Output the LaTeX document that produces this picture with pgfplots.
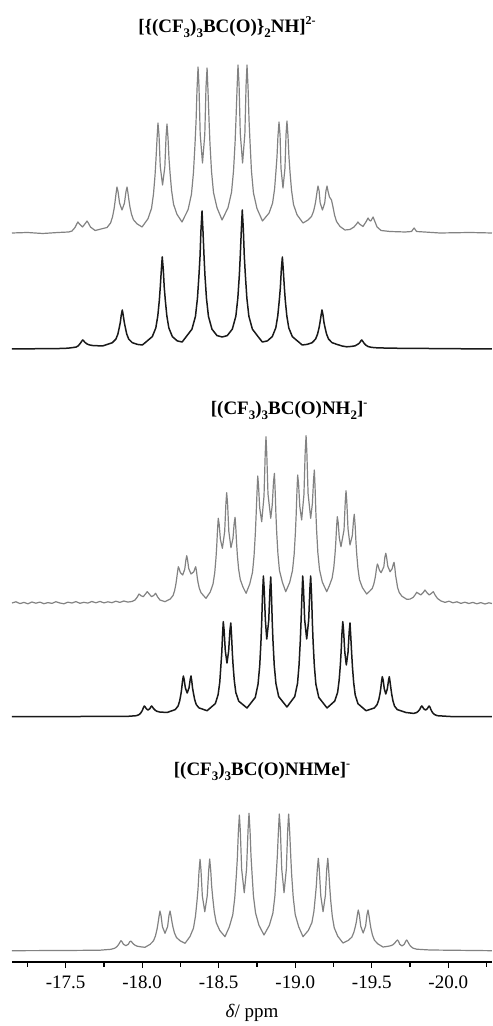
\documentclass[border=0pt]{standalone}
\usepackage{fontspec}
\setmainfont{Liberation Serif}
\usepackage{pgfplots}
\pgfplotsset{compat=1.18}
\definecolor{grayline}{RGB}{130,130,130}
\definecolor{blackline}{RGB}{25,25,25}
\newcommand{\lsub}[1]{\raisebox{-0.55ex}{\fontsize{13}{13}\selectfont #1}}
\newcommand{\lsup}[1]{\raisebox{1.0ex}{\fontsize{12}{12}\selectfont #1}}
\begin{document}
\begin{tikzpicture}
\begin{axis}[
  scale only axis, width=480pt, height=962pt,
  at={(0,0)}, anchor=south west,
  x dir=reverse, xmin=-20.286, xmax=-17.149, ymin=0, ymax=962,
  axis x line*=bottom, axis y line=none, ytick=\empty,
  x axis line style={-, line width=1.4pt, black},
  xtick={-17.5,-18,-18.5,-19,-19.5,-20},
  xticklabels={-17.5,-18.0,-18.5,-19.0,-19.5,-20.0},
  minor xtick={-17.25,-17.75,-18.25,-18.75,-19.25,-19.75,-20.25},
  tick align=outside, major tick length=6pt, minor tick length=4.5pt,
  tick style={black, line width=1.2pt},
  ticklabel style={font=\fontsize{19}{22}\selectfont},
  xticklabel style={yshift=-4pt},
  every axis plot/.append style={line join=round},
  clip=false,
]
\path (axis cs:-17.0706,-64) rectangle (axis cs:-20.286,962);

% trace 1: gray top
\addplot[grayline, line width=1.2pt] coordinates {
(-17.149,729) (-17.250,729.5) (-17.350,728.5) (-17.450,729.5) (-17.520,730)
(-17.541,731) (-17.561,734.5) (-17.574,738.5) (-17.580,740) (-17.587,738.5) (-17.610,735) (-17.633,739.5) (-17.639,741) (-17.646,739.5) (-17.662,735) (-17.692,731.5)
(-17.770,734.5) (-17.793,738.9) (-17.806,745.1) (-17.816,753) (-17.822,759.6) (-17.829,768.4) (-17.835,775) (-17.842,770.4) (-17.852,758.9) (-17.868,752) (-17.884,758.9) (-17.894,770.4) (-17.901,775) (-17.907,769) (-17.914,761) (-17.920,755) (-17.930,747.8) (-17.943,742.2) (-17.966,738.2) (-17.999,735)
(-18.038,743.3) (-18.061,753.7) (-18.074,768.3) (-18.084,787) (-18.090,802.6) (-18.097,823.4) (-18.103,839) (-18.110,826.6) (-18.118,795.6) (-18.133,777) (-18.148,795.3) (-18.156,825.8) (-18.162,838) (-18.169,823.3) (-18.175,803.7) (-18.182,789) (-18.192,771.4) (-18.205,757.6) (-18.227,747.8) (-18.260,740)
(-18.300,752.4) (-18.322,767.9) (-18.335,789.6) (-18.345,817.5) (-18.352,840.8) (-18.358,871.8) (-18.365,895) (-18.371,875.8) (-18.379,827.8) (-18.394,799) (-18.409,827.5) (-18.417,875) (-18.424,894) (-18.430,871.2) (-18.437,840.8) (-18.443,818) (-18.453,790.6) (-18.466,769.4) (-18.489,754.2) (-18.522,742)
(-18.561,754.4) (-18.584,769.9) (-18.597,791.6) (-18.607,819.5) (-18.613,842.8) (-18.620,873.8) (-18.626,897) (-18.633,877.4) (-18.641,828.4) (-18.656,799) (-18.671,828.4) (-18.679,877.4) (-18.685,897) (-18.692,873.6) (-18.698,842.4) (-18.705,819) (-18.714,790.9) (-18.727,769.1) (-18.750,753.5) (-18.786,741)
(-18.829,748.9) (-18.852,758.8) (-18.865,772.7) (-18.874,790.5) (-18.881,805.4) (-18.887,825.2) (-18.894,840) (-18.901,826.8) (-18.907,793.8) (-18.920,774) (-18.933,793.8) (-18.940,827.6) (-18.946,841) (-18.953,825.7) (-18.959,805.3) (-18.966,790) (-18.976,771.6) (-18.989,757.4) (-19.012,747.2) (-19.051,739)
(-19.084,742) (-19.107,745.7) (-19.120,750.8) (-19.130,757.5) (-19.136,763) (-19.143,770.5) (-19.149,776) (-19.156,771.2) (-19.163,759.2) (-19.178,752) (-19.193,759.2) (-19.201,771.2) (-19.208,776) (-19.214,771) (-19.224,765) (-19.237,762) (-19.247,755) (-19.257,747) (-19.270,740.5) (-19.293,735.5) (-19.325,732)
(-19.358,732.5) (-19.384,735) (-19.401,738) (-19.410,740) (-19.420,738) (-19.443,735.5) (-19.466,741) (-19.476,744) (-19.486,741.5) (-19.494,741) (-19.509,745) (-19.518,741.5) (-19.535,735) (-19.561,731.5) (-19.620,730.5) (-19.718,730) (-19.760,730.5) (-19.777,734) (-19.793,730.5) (-19.946,729) (-20.142,729.5) (-20.286,729)
};

% trace 2: black top
\addplot[blackline, line width=1.5pt] coordinates {
(-17.149,613) (-17.332,613.3) (-17.463,613.5)
(-17.513,613.8) (-17.546,614.4) (-17.569,615) (-17.582,616.2) (-17.592,618) (-17.598,619.2) (-17.605,620.8) (-17.611,622) (-17.618,621.1) (-17.624,619.9) (-17.631,619) (-17.641,617.9) (-17.654,617.1) (-17.676,616.5) (-17.741,616)
(-17.772,617.6) (-17.805,619.3) (-17.828,622.9) (-17.841,627.9) (-17.850,634.3) (-17.857,639.6) (-17.863,646.7) (-17.870,652) (-17.876,646.7) (-17.883,639.6) (-17.890,634.3) (-17.899,627.9) (-17.912,622.9) (-17.935,619.3) (-17.968,617.6) (-18.001,617)
(-18.033,621.1) (-18.066,625.4) (-18.089,634.1) (-18.102,646.2) (-18.112,661.8) (-18.118,674.7) (-18.125,692) (-18.131,705) (-18.138,692) (-18.144,674.7) (-18.151,661.8) (-18.161,646.2) (-18.174,634.1) (-18.197,625.4) (-18.229,621.1) (-18.261,620)
(-18.293,626.4) (-18.325,632.8) (-18.348,645.6) (-18.361,663.6) (-18.371,686.8) (-18.378,706) (-18.384,731.7) (-18.391,751) (-18.397,731.7) (-18.404,706) (-18.410,686.8) (-18.420,663.6) (-18.433,645.6) (-18.456,632.8) (-18.489,626.4) (-18.523,625)
(-18.556,626.4) (-18.589,632.9) (-18.612,645.8) (-18.625,663.9) (-18.635,687.3) (-18.641,706.7) (-18.648,732.6) (-18.654,752) (-18.661,732.6) (-18.667,706.7) (-18.674,687.3) (-18.684,663.9) (-18.697,645.8) (-18.720,632.9) (-18.752,626.4) (-18.785,620)
(-18.818,621.1) (-18.850,625.4) (-18.873,634.1) (-18.886,646.2) (-18.896,661.8) (-18.903,674.7) (-18.909,692) (-18.916,705) (-18.922,692) (-18.929,674.7) (-18.935,661.8) (-18.945,646.2) (-18.958,634.1) (-18.981,625.4) (-19.014,621.1) (-19.046,617)
(-19.077,617.6) (-19.110,619.3) (-19.133,622.9) (-19.146,627.9) (-19.156,634.3) (-19.162,639.6) (-19.169,646.7) (-19.175,652) (-19.182,646.7) (-19.188,639.6) (-19.195,634.3) (-19.205,627.9) (-19.218,622.9) (-19.241,619.3) (-19.273,617.6) (-19.306,616)
(-19.337,615.2) (-19.369,615.6) (-19.392,616.2) (-19.405,617.4) (-19.415,618.3) (-19.422,619.4) (-19.428,620.9) (-19.435,622) (-19.441,620.8) (-19.448,619.2) (-19.454,618) (-19.464,616.6) (-19.477,615.4) (-19.500,614.6) (-19.533,614.2) (-19.620,613.8) (-20.286,613)
};

% trace 3: gray middle
\addplot[grayline, line width=1.2pt] coordinates {
(-17.149,359) (-17.175,360.2) (-17.201,358.4) (-17.227,359.6) (-17.253,358.2) (-17.279,360) (-17.305,358.8) (-17.332,359.9) (-17.358,358.3) (-17.384,359.4) (-17.410,358.6) (-17.436,360.3) (-17.462,359) (-17.488,358.2) (-17.514,359.8) (-17.541,359) (-17.567,360.4) (-17.593,358.7) (-17.619,359.7) (-17.645,358.9) (-17.671,360.5) (-17.697,359.2) (-17.724,360.6) (-17.750,359.1) (-17.776,360.2) (-17.802,359.3) (-17.828,360.8) (-17.854,359.6) (-17.880,361) (-17.906,359.9)
(-17.933,360.5) (-17.953,362) (-17.966,364.5) (-17.979,368) (-17.992,366.3) (-18.007,365.3) (-18.020,367.8) (-18.033,370.3) (-18.047,367.8) (-18.061,365.3) (-18.075,366.5) (-18.088,368.7) (-18.101,365) (-18.116,362) (-18.149,360.3)
(-18.184,363.1) (-18.202,366.6) (-18.212,371.5) (-18.220,377.8) (-18.225,383.1) (-18.231,390.1) (-18.236,395.3) (-18.241,393.6) (-18.249,389.5) (-18.265,387) (-18.278,392.8) (-18.286,402.4) (-18.291,406.3) (-18.296,402.6) (-18.304,393.5) (-18.319,388) (-18.337,390.2) (-18.345,393.7) (-18.350,395.3) (-18.355,390.6) (-18.360,384.2) (-18.365,379.5) (-18.373,373.8) (-18.384,369.4) (-18.402,366.2) (-18.417,363.7)
(-18.445,370.1) (-18.463,378.1) (-18.474,389.3) (-18.482,403.7) (-18.487,415.7) (-18.492,431.7) (-18.497,443.7) (-18.503,437.7) (-18.511,422.7) (-18.524,413.7) (-18.539,430.4) (-18.547,458.2) (-18.552,469.3) (-18.558,458.3) (-18.566,430.8) (-18.580,414.3) (-18.593,423.4) (-18.601,438.6) (-18.607,444.7) (-18.612,433.3) (-18.617,418.1) (-18.622,406.7) (-18.630,393) (-18.641,382.4) (-18.659,374.8) (-18.679,368.7)
(-18.703,378.1) (-18.721,389.8) (-18.731,406.2) (-18.739,427.4) (-18.744,444.9) (-18.750,468.4) (-18.755,486) (-18.760,476.9) (-18.768,454) (-18.781,440.3) (-18.796,465.8) (-18.804,508.3) (-18.809,525.3) (-18.814,508.6) (-18.822,468.2) (-18.840,443.7) (-18.850,457.2) (-18.858,479.7) (-18.864,488.7) (-18.869,470.9) (-18.874,447.3) (-18.879,429.5) (-18.887,408.2) (-18.897,391.6) (-18.916,379.8) (-18.938,370.3)
(-18.964,379.6) (-18.982,391.3) (-18.993,407.6) (-19.001,428.7) (-19.006,446.2) (-19.011,469.5) (-19.016,487) (-19.022,478) (-19.030,455.5) (-19.042,442) (-19.057,467.3) (-19.065,509.4) (-19.071,526.3) (-19.076,509.8) (-19.084,468.5) (-19.101,443.7) (-19.112,458.2) (-19.120,482.3) (-19.125,492) (-19.130,473.7) (-19.135,449.4) (-19.140,431.2) (-19.148,409.2) (-19.159,392.2) (-19.177,380) (-19.206,370.3)
(-19.223,376.3) (-19.241,383.8) (-19.252,394.3) (-19.260,407.8) (-19.265,419.1) (-19.270,434.1) (-19.275,445.3) (-19.281,439.3) (-19.288,424.3) (-19.299,415.3) (-19.319,432.1) (-19.327,460.1) (-19.332,471.3) (-19.337,460.7) (-19.345,433.3) (-19.358,417) (-19.373,426.2) (-19.381,441.6) (-19.386,447.7) (-19.392,435.7) (-19.397,419.8) (-19.402,407.9) (-19.410,393.5) (-19.420,382.3) (-19.439,374.4) (-19.467,368)
(-19.484,370.4) (-19.503,373.4) (-19.513,377.6) (-19.521,383) (-19.526,387.5) (-19.531,393.5) (-19.537,398) (-19.542,396.3) (-19.550,391.9) (-19.561,389.3) (-19.579,395.1) (-19.586,404.8) (-19.592,408.7) (-19.597,405) (-19.605,395.8) (-19.620,390.3) (-19.633,393.1) (-19.641,397.8) (-19.646,399.7) (-19.651,394.2) (-19.656,386.7) (-19.662,381.2) (-19.669,374.5) (-19.680,369.4) (-19.698,365.7) (-19.729,362.7)
(-19.750,362.9) (-19.770,364.5) (-19.783,367) (-19.794,369.7) (-19.806,368.5) (-19.821,367) (-19.837,369.5) (-19.848,372) (-19.860,369.5) (-19.876,367) (-19.891,368.8) (-19.903,370.3) (-19.914,367) (-19.930,363.5)
(-19.953,361) (-19.979,359.6) (-20.005,360.8) (-20.031,359.2) (-20.057,360.2) (-20.083,358.6) (-20.109,359.8) (-20.135,358.5) (-20.161,359.6) (-20.187,358.2) (-20.213,359.4) (-20.240,358) (-20.266,359.2) (-20.286,358.5)
};

% trace 4: black middle
\addplot[blackline, line width=1.5pt] coordinates {
(-17.149,245.3) (-17.600,245.5) (-17.900,245.6)
(-17.962,246.3) (-17.980,247.4) (-17.990,248.9) (-17.998,250.8) (-18.003,252.3) (-18.008,254.4) (-18.014,256) (-18.019,255.2) (-18.027,253.2) (-18.038,252) (-18.049,253.2) (-18.057,255.2) (-18.062,256) (-18.067,255) (-18.073,253.7) (-18.078,252.8) (-18.086,251.6) (-18.096,250.7) (-18.114,250) (-18.162,249.5)
(-18.216,252.4) (-18.235,256.1) (-18.245,261.2) (-18.253,267.8) (-18.258,273.2) (-18.263,280.5) (-18.269,286) (-18.274,282.6) (-18.282,274.1) (-18.294,269) (-18.306,274.1) (-18.314,282.6) (-18.319,286) (-18.324,280.8) (-18.329,273.9) (-18.335,268.7) (-18.343,262.4) (-18.353,257.5) (-18.371,254.1) (-18.424,251.3)
(-18.478,258.4) (-18.496,267.3) (-18.507,279.8) (-18.514,295.8) (-18.520,309.2) (-18.525,327) (-18.530,340.3) (-18.535,332) (-18.543,311.4) (-18.554,299) (-18.565,311) (-18.573,331) (-18.579,339) (-18.584,326.3) (-18.589,309.3) (-18.594,296.5) (-18.602,281.2) (-18.612,269.3) (-18.631,260.8) (-18.685,254)
(-18.739,264.6) (-18.757,277.8) (-18.768,296.2) (-18.776,320) (-18.781,339.8) (-18.786,366.2) (-18.792,386) (-18.797,373.4) (-18.805,341.9) (-18.814,323) (-18.827,341.6) (-18.835,372.6) (-18.840,385) (-18.845,365.5) (-18.850,339.5) (-18.855,320) (-18.863,296.6) (-18.874,278.4) (-18.892,265.4) (-18.946,255)
(-18.997,265.5) (-19.015,278.6) (-19.025,296.9) (-19.033,320.5) (-19.038,340.2) (-19.044,366.4) (-19.049,386) (-19.054,373.4) (-19.062,341.9) (-19.075,323) (-19.088,341.9) (-19.096,373.4) (-19.101,386) (-19.107,366.2) (-19.112,339.8) (-19.117,320) (-19.125,296.2) (-19.135,277.8) (-19.154,264.6) (-19.208,254)
(-19.258,260.9) (-19.277,269.5) (-19.287,281.6) (-19.295,297.2) (-19.300,310.1) (-19.305,327.4) (-19.311,340.3) (-19.316,331.6) (-19.324,310) (-19.334,297) (-19.345,309.6) (-19.353,330.6) (-19.358,339) (-19.363,325.8) (-19.369,308.3) (-19.374,295.2) (-19.382,279.4) (-19.392,267.1) (-19.410,258.3) (-19.463,251.3)
(-19.517,254) (-19.535,257.4) (-19.546,262.2) (-19.554,268.3) (-19.559,273.4) (-19.564,280.2) (-19.569,285.3) (-19.575,281.8) (-19.582,273.2) (-19.592,268) (-19.602,273.2) (-19.610,281.8) (-19.615,285.3) (-19.620,279.9) (-19.626,272.8) (-19.631,267.4) (-19.639,261) (-19.649,255.9) (-19.667,252.4) (-19.724,249.5)
(-19.774,248.6) (-19.793,249.4) (-19.803,250.6) (-19.811,252) (-19.816,253.2) (-19.821,254.8) (-19.827,256) (-19.832,255.2) (-19.840,253.2) (-19.852,252) (-19.863,253.2) (-19.871,255.2) (-19.876,256) (-19.882,254.4) (-19.887,252.3) (-19.892,250.8) (-19.900,248.9) (-19.911,247.4) (-19.929,246.3) (-20.012,245.5) (-20.286,245.3)
};

% trace 5: gray bottom
\addplot[grayline, line width=1.2pt] coordinates {
(-17.149,11.3) (-17.500,11.5) (-17.724,11.8)
(-17.796,12.7) (-17.819,13.7) (-17.832,15) (-17.842,16.7) (-17.848,18) (-17.855,19.9) (-17.861,21.3) (-17.868,20.3) (-17.877,17.8) (-17.893,16.3) (-17.909,17.7) (-17.918,20.1) (-17.925,21) (-17.931,20.1) (-17.938,18.8) (-17.944,17.9) (-17.954,16.7) (-17.967,15.8) (-17.990,15.2) (-18.018,14.7)
(-18.051,17.6) (-18.074,21.2) (-18.087,26.3) (-18.097,32.9) (-18.103,38.3) (-18.110,45.6) (-18.116,51) (-18.123,46.5) (-18.132,35.4) (-18.149,28.7) (-18.166,35.4) (-18.175,46.5) (-18.182,51) (-18.188,46.2) (-18.195,39.7) (-18.201,34.9) (-18.211,29) (-18.224,24.5) (-18.247,21.3) (-18.280,18.7)
(-18.312,25.4) (-18.335,33.8) (-18.348,45.6) (-18.358,60.7) (-18.365,73.3) (-18.371,90.1) (-18.378,102.7) (-18.384,92.2) (-18.393,66) (-18.409,50.3) (-18.425,66.1) (-18.435,92.5) (-18.441,103) (-18.448,91.3) (-18.454,75.8) (-18.461,64.2) (-18.471,50.2) (-18.484,39.3) (-18.507,31.5) (-18.541,25.3)
(-18.569,35) (-18.592,47.2) (-18.605,64.2) (-18.615,86.2) (-18.622,104.4) (-18.628,128.7) (-18.635,147) (-18.641,131.5) (-18.650,92.6) (-18.667,69.3) (-18.682,93.1) (-18.692,132.8) (-18.698,148.7) (-18.705,130.4) (-18.711,106.1) (-18.718,87.9) (-18.727,65.9) (-18.741,48.9) (-18.763,36.7) (-18.796,27)
(-18.831,36.7) (-18.854,48.8) (-18.867,65.7) (-18.876,87.5) (-18.883,105.7) (-18.890,129.9) (-18.896,148) (-18.903,132.3) (-18.912,92.9) (-18.927,69.3) (-18.942,92.9) (-18.951,132.3) (-18.957,148) (-18.964,129.6) (-18.971,105.1) (-18.977,86.7) (-18.987,64.6) (-19.000,47.4) (-19.023,35.1) (-19.051,25.3)
(-19.086,31.6) (-19.109,39.4) (-19.122,50.4) (-19.131,64.5) (-19.138,76.3) (-19.144,91.9) (-19.151,103.7) (-19.157,93) (-19.167,66.3) (-19.182,50.3) (-19.197,66.3) (-19.206,93) (-19.213,103.7) (-19.219,91) (-19.226,74.1) (-19.232,61.4) (-19.242,46.1) (-19.255,34.2) (-19.278,25.8) (-19.312,19)
(-19.347,21.6) (-19.370,24.9) (-19.383,29.6) (-19.393,35.5) (-19.400,40.5) (-19.406,47) (-19.412,52) (-19.419,47.4) (-19.428,35.9) (-19.444,29) (-19.460,35.9) (-19.469,47.4) (-19.476,52) (-19.482,46.5) (-19.489,39) (-19.495,33.5) (-19.505,26.8) (-19.518,21.7) (-19.541,18) (-19.574,15)
(-19.602,15.6) (-19.625,16.3) (-19.638,17.2) (-19.648,18.5) (-19.654,19.6) (-19.661,21) (-19.668,22) (-19.675,20.8) (-19.683,17.8) (-19.698,16) (-19.713,17.8) (-19.722,20.8) (-19.729,22) (-19.735,20.5) (-19.742,18.5) (-19.748,17) (-19.758,15.2) (-19.771,13.8) (-19.794,12.8) (-19.881,12) (-20.286,11.3)
};

\node[anchor=base, font=\bfseries\fontsize{19}{22}\selectfont] at (axis cs:-18.554,929) {[\{(CF\lsub{3})\lsub{3}BC(O)\}\lsub{2}NH]\lsup{2-}};
\node[anchor=base, font=\bfseries\fontsize{19}{22}\selectfont] at (axis cs:-18.960,547) {[(CF\lsub{3})\lsub{3}BC(O)NH\lsub{2}]\lsup{-}};
\node[anchor=base, font=\bfseries\fontsize{19}{22}\selectfont] at (axis cs:-18.783,186) {[(CF\lsub{3})\lsub{3}BC(O)NHMe]\lsup{-}};
\node[anchor=base, font=\fontsize{19}{22}\selectfont] at (axis cs:-18.718,-55) {\textit{δ}/ ppm};
\end{axis}
\end{tikzpicture}
\end{document}
